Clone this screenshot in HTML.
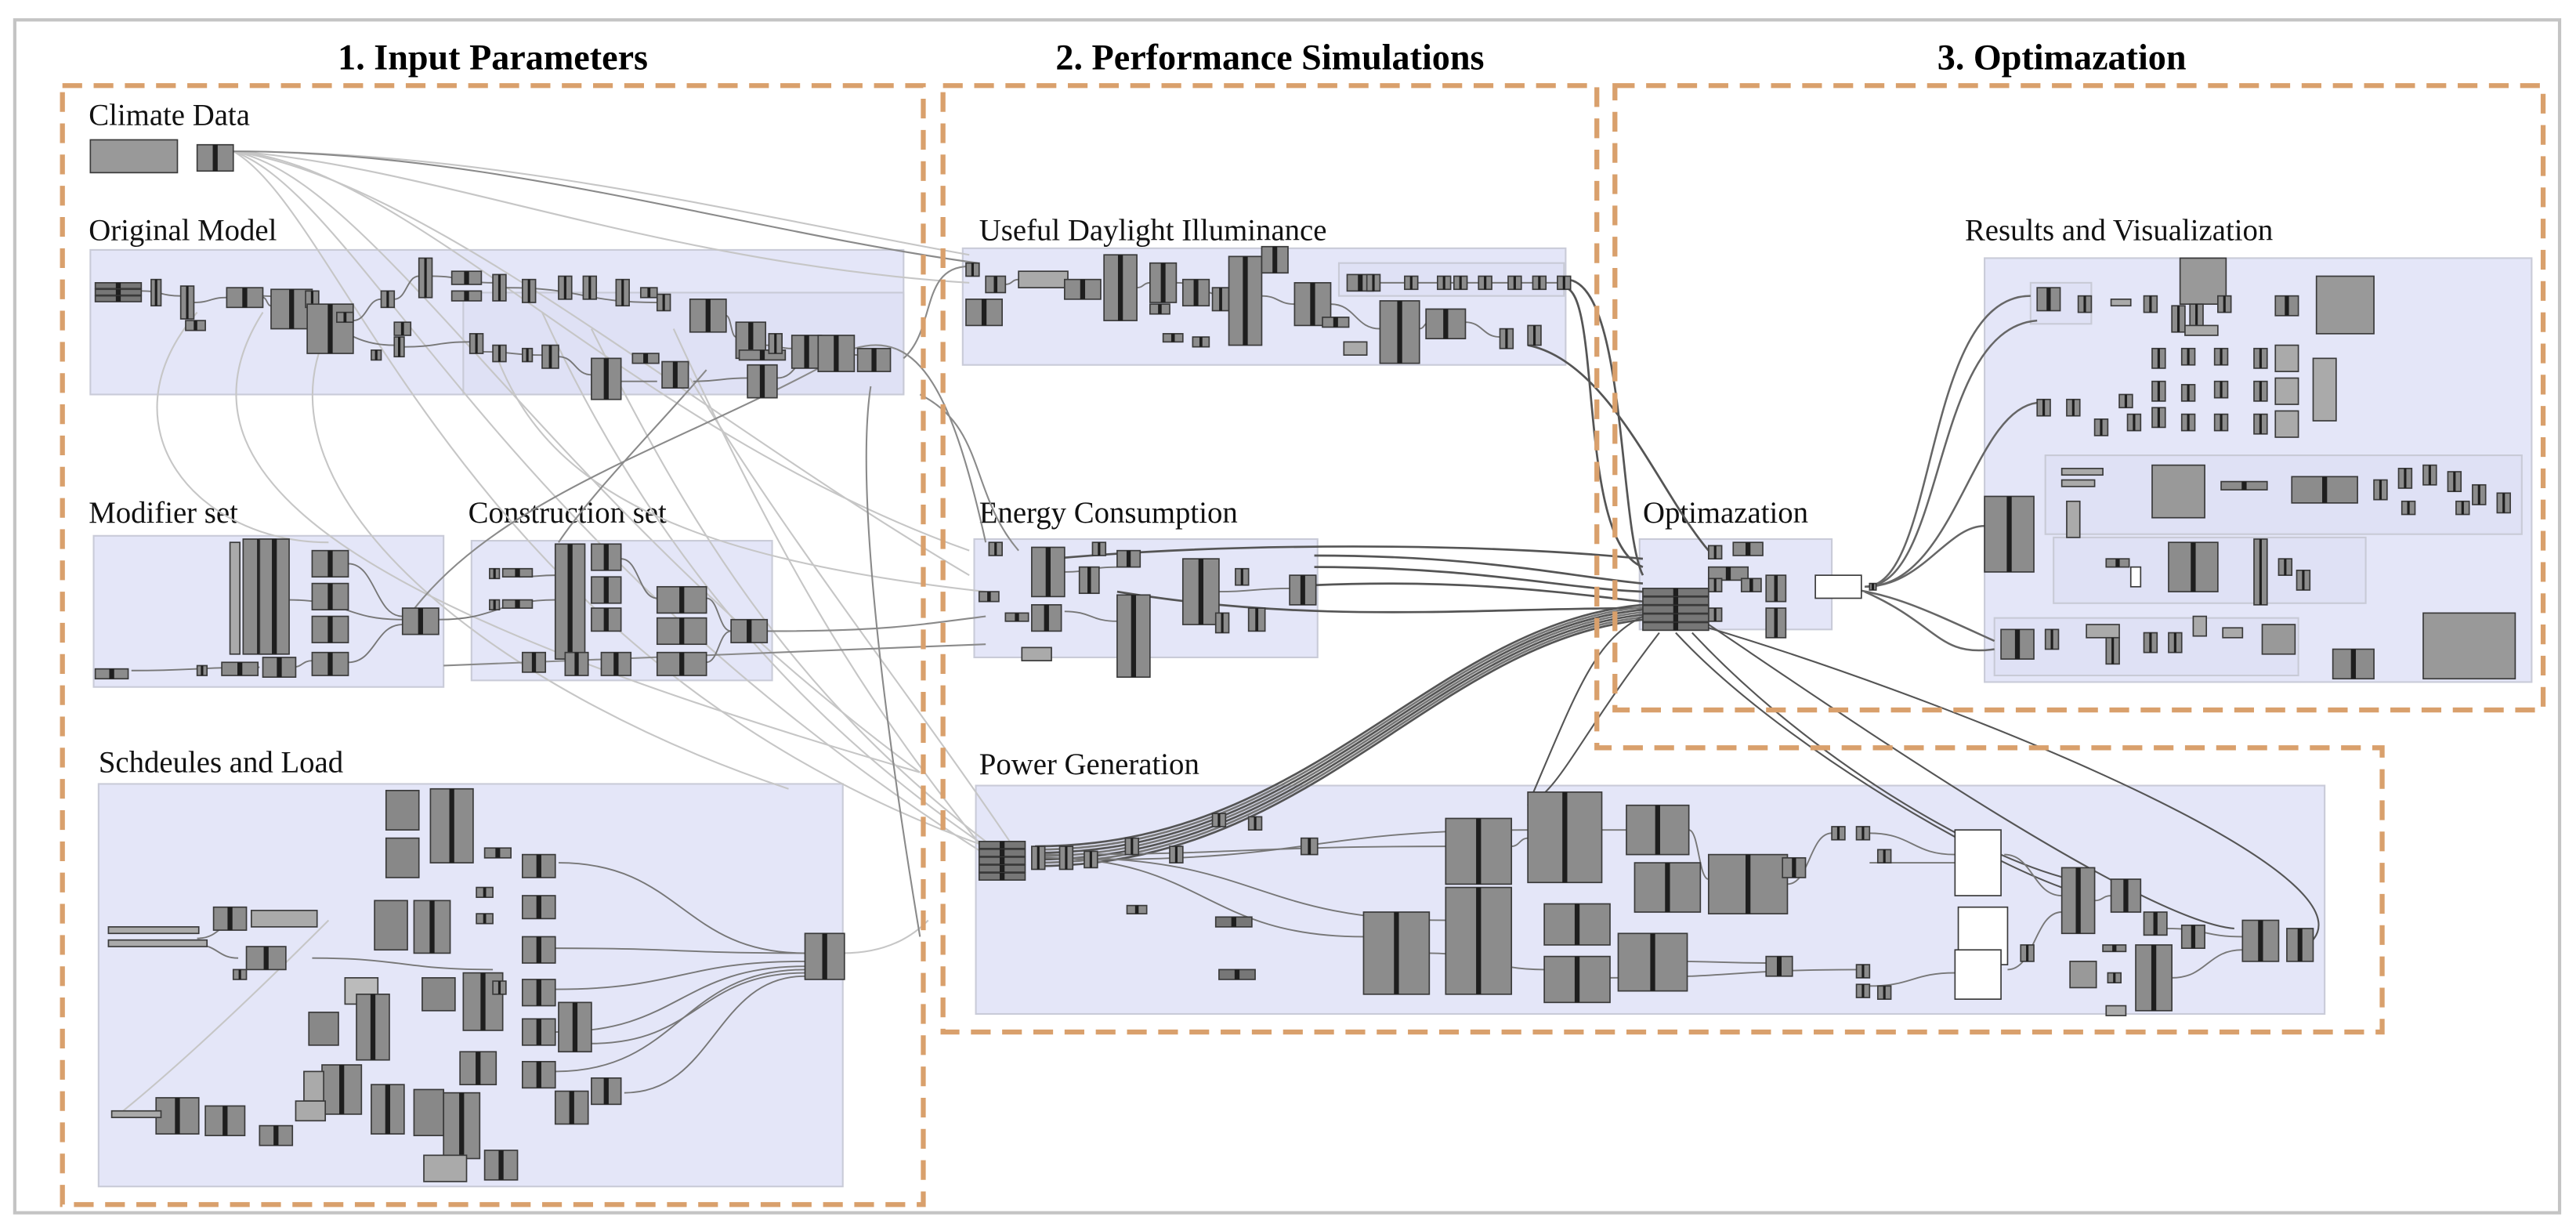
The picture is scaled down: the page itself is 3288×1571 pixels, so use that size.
<!DOCTYPE html>
<html><head><meta charset="utf-8"><style>
html,body{margin:0;padding:0;background:#fff;}
svg{display:block;}
.t{font-family:"Liberation Serif",serif;}
</style></head><body>
<svg id="s" width="3288" height="1571" viewBox="0 0 1568 749" xmlns="http://www.w3.org/2000/svg">
<rect x="0" y="0" width="1568" height="749" fill="#fff"/>
<rect x="9" y="12" width="1549" height="726" fill="none" stroke="#c4c4c4" stroke-width="2"/>
<g class="t" font-weight="bold" font-size="22" fill="#000" text-anchor="middle">
<text x="300" y="42">1. Input  Parameters</text>
<text x="773" y="42">2. Performance Simulations</text>
<text x="1255" y="42">3. Optimazation</text>
</g>
<g fill="#e4e6f8" stroke="#c9cbd8" stroke-width="1">
<rect x="55" y="152" width="495" height="88"/>
<rect x="57" y="326" width="213" height="92"/>
<rect x="287" y="329" width="183" height="85"/>
<rect x="60" y="477" width="453" height="245"/>
<rect x="586" y="151" width="367" height="71"/>
<rect x="593" y="328" width="209" height="72"/>
<rect x="594" y="478" width="821" height="139"/>
<rect x="998" y="328" width="117" height="55"/>
<rect x="1208" y="157" width="333" height="258"/>
</g>
<g fill="#dfe1f5" stroke="#c8cad6" stroke-width="1">
<rect x="1236" y="172" width="37" height="25"/>
<rect x="1245" y="277" width="290" height="48"/>
<rect x="1250" y="327" width="190" height="40"/>
<rect x="1214" y="376" width="185" height="35"/>
<rect x="282" y="178" width="268" height="62"/>
<rect x="815" y="160" width="137" height="20"/>
</g>
<g class="t" font-size="18.5" fill="#111">
<text x="54" y="76">Climate Data</text>
<text x="54" y="146">Original Model</text>
<text x="54" y="318">Modifier set</text>
<text x="285" y="318">Construction set</text>
<text x="60" y="470">Schdeules and Load</text>
<text x="596" y="146">Useful Daylight Illuminance</text>
<text x="596" y="318">Energy Consumption</text>
<text x="596" y="471">Power Generation</text>
<text x="1000" y="318">Optimazation</text>
<text x="1196" y="146">Results and Visualization</text>
</g>
<g id="wires" fill="none"></g>
<g id="nodes"></g>
<g fill="none" stroke="#d9a06c" stroke-width="3" stroke-dasharray="12,7">
<rect x="38" y="52" width="524" height="681"/>
<path d="M574,52 H972 V455 H1450 V628 H574 Z"/>
<rect x="983" y="52" width="565" height="380"/>
</g>
</svg>
<script>
var NS="http://www.w3.org/2000/svg";
var W=document.getElementById("wires"),N=document.getElementById("nodes");
function path(d,c,w){var p=document.createElementNS(NS,"path");p.setAttribute("d",d);p.setAttribute("stroke",c||"#777");p.setAttribute("stroke-width",w||1);W.appendChild(p);}
function node(x,y,w,h,f){
 var g=document.createElementNS(NS,"g");
 var r=document.createElementNS(NS,"rect");r.setAttribute("x",x);r.setAttribute("y",y);r.setAttribute("width",w);r.setAttribute("height",h);
 r.setAttribute("fill",f||"#8c8c8c");r.setAttribute("stroke","#3a3a3a");r.setAttribute("stroke-width","0.8");g.appendChild(r);
 if(f!=="#999"&&f!=="#fff"&&f!=="#aaa"&&f!=="#888"&&f!=="#bbb"){var s=document.createElementNS(NS,"rect");var sw=Math.max(1.5,Math.min(3,w*0.18));
 s.setAttribute("x",x+w/2-sw/2);s.setAttribute("y",y);s.setAttribute("width",sw);s.setAttribute("height",h);s.setAttribute("fill","#1e1e1e");g.appendChild(s);}
 N.appendChild(g);}
function stack(x,y,w,h,n){for(var i=0;i<n;i++){node(x,y+i*h/n,w,h/n-0.5,"#777");}}
var L="#c6c6c6",M="#8a8a8a",D="#555";
[
"M142,92 C300,92 450,130 590,155","M142,92 C260,100 400,160 590,172","M142,92 C250,100 380,260 590,335",
"M142,92 C230,110 330,300 560,470","M142,92 C220,120 300,330 600,520","M142,92 C210,130 280,400 600,515",
"M142,92 C260,110 420,250 590,350",
"M330,190 C380,300 460,420 600,515","M360,200 C420,320 480,420 600,512","M410,200 C470,330 520,420 600,518",
"M120,190 C60,260 120,330 200,330","M160,190 C90,300 250,380 560,470","M200,200 C150,300 300,420 480,480",
"M420,230 C480,330 560,430 620,520","M300,210 C330,300 420,340 600,360",
"M70,680 C120,640 180,580 200,560","M513,580 C545,580 560,565 565,560"
].forEach(function(d){path(d,L,1);});
[
"M142,92 C300,92 450,140 595,160","M550,218 C570,200 560,162 590,162","M470,384 C540,384 560,380 600,375",
"M270,405 C400,400 500,395 600,392","M520,212 C560,200 580,240 600,330",
"M560,240 C600,260 590,300 620,335","M340,330 C360,300 400,260 430,225","M245,380 C300,300 420,270 520,212",
"M560,570 C540,450 520,300 530,235"
].forEach(function(d){path(d,M,1);});
["M800,338 C900,338 950,350 1000,355","M800,345 C900,345 950,358 1000,360","M800,356 C900,352 960,362 1000,366",
 "M953,170 C990,170 985,320 1000,350","M953,175 C975,180 960,330 1000,345","M930,210 C980,220 1010,300 1040,335",
 "M680,360 C800,380 900,370 1000,370","M640,340 C750,330 900,330 1000,340"].forEach(function(d){path(d,D,1.3);});
for(var i=0;i<7;i++){path("M630,"+(515+i*2)+" C800,"+(515+i*2)+" 870,"+(380+i*2)+" 1000,"+(368+i*1.5),i%2?"#777":"#555",1.3);}
path("M930,490 C960,420 970,390 1000,375",D,1);
["M1135,357 C1180,357 1170,180 1236,180","M1135,357 C1185,357 1175,200 1240,195","M1135,357 C1190,357 1200,250 1240,245",
 "M1135,357 C1170,357 1185,320 1208,320","M1135,360 C1180,380 1180,400 1214,395","M1115,357 C1150,360 1170,370 1214,390"].forEach(function(d){path(d,"#666",1.2);});
["M1040,380 C1100,420 1300,560 1360,565","M1040,382 C1200,430 1470,540 1400,578","M1030,385 C1100,460 1200,520 1260,535",
 "M1020,385 C1080,450 1200,520 1255,540","M1010,385 C960,450 950,480 930,490"].forEach(function(d){path(d,"#555",1);});
var inner=[[86,177,110,180],[118,184,138,181],[160,181,165,186],[215,195,232,182],[240,182,255,168],[263,168,300,172],[308,175,400,184],[442,192,448,205],[466,210,482,212],[500,214,525,216],[160,180,240,210],[246,211,286,208],[294,214,330,216],[340,217,360,228],[378,232,400,232],[422,232,455,230],[473,230,498,214],
[176,365,245,377],[212,343,245,375],[212,403,245,380],[80,408,158,406],[178,406,190,402],[267,377,338,365],[378,340,400,364],[430,364,445,384],[430,403,445,384],[316,351,338,350],[467,384,470,384],
[340,525,490,580],[338,577,490,580],[338,602,490,585],[338,628,490,588],[338,652,490,590],[360,635,490,592],[380,665,490,594],[120,571,150,558],[120,575,145,583],[190,583,300,590],
[612,173,620,170],[692,175,700,172],[716,172,748,180],[768,180,788,185],[810,185,840,200],[864,200,870,196],[892,196,913,205],[840,172,948,172],
[648,348,680,345],[648,372,680,378],[742,360,785,358],
[636,522,830,570],[636,520,880,515],[650,522,880,560],[668,523,930,505],[920,515,930,510],[975,505,990,505],[1028,505,1040,535],[1088,538,1115,507],[1138,507,1190,520],[1138,525,1190,525],[870,580,940,590],[980,595,1130,590],[1138,600,1190,592],[1220,520,1255,545],[1222,590,1255,555],[1275,548,1285,545],[1319,565,1365,570],[1322,595,1365,578],[1020,585,1075,586]];
inner.forEach(function(a){var mx=(a[0]+a[2])/2;path("M"+a[0]+","+a[1]+" C"+mx+","+a[1]+" "+mx+","+a[3]+" "+a[2]+","+a[3],"#777",0.9);});
var ns=[
[55,85,53,20,"#999"],[120,88,22,16],
[92,170,6,16],[110,174,8,20],[113,195,12,6],[138,175,22,12],[165,176,25,24],[186,177,8,10],[187,185,28,30],[205,190,10,6],[232,177,8,10],[255,157,8,24],[275,165,18,8],[275,177,18,6],[300,167,8,16],[318,170,8,14],[340,168,8,14],[355,168,8,14],[375,170,8,16],[390,175,10,6],[400,179,8,10],[420,182,22,20],[448,196,18,22],[450,213,28,6],[468,203,8,12],[482,204,18,20],[240,205,6,12],[226,213,6,6],[286,203,8,12],[300,210,8,10],[330,210,10,14],[318,212,6,8],[360,218,18,25],[385,215,16,6],[403,220,16,16],[455,222,18,20],[498,204,22,22],[522,212,20,14],[240,196,10,8],
[140,330,6,68,"#aaa"],[148,328,20,70],[158,328,18,70],[190,335,22,16],[190,355,22,16],[190,375,22,16],[190,397,22,14],[245,370,22,16],[160,400,20,12],[135,403,22,8],[58,407,20,6],[120,405,6,6],
[298,346,6,6],[306,346,18,5],[298,365,6,6],[306,365,18,5],[338,331,18,70],[360,331,18,16],[360,351,18,16],[360,370,18,14],[400,357,30,16],[400,376,30,16],[400,397,30,14],[445,377,22,14],[318,397,14,12],[344,397,14,14],[366,397,18,14],
[235,481,20,24,"#888"],[262,480,26,45],[235,510,20,24,"#888"],[295,516,16,6],[318,520,20,14],[228,548,20,30,"#888"],[252,548,22,32],[290,540,10,6],[318,545,20,14],[290,556,10,6],[318,570,20,16],[318,596,20,16],[318,620,20,16],[318,646,20,16],[282,592,24,35],[257,595,20,20,"#888"],[300,597,8,8],[210,595,20,16,"#bbb"],[217,605,20,40],[188,616,18,20,"#888"],[196,648,24,30],[185,652,12,18,"#aaa"],[226,660,20,30],[180,670,18,12,"#aaa"],[252,663,18,28,"#888"],[270,665,22,40],[280,640,22,20],[295,700,20,18],[258,703,26,16,"#aaa"],[340,610,20,30],[360,656,18,16],[338,664,20,20],[490,568,24,28],[130,552,20,14],[153,554,40,10,"#aaa"],[150,576,24,14],[142,590,8,6],[95,668,26,22],[125,673,24,18],[158,685,20,12],[68,676,30,4,"#aaa"],[66,564,55,4,"#aaa"],[66,572,60,4,"#aaa"],
[588,160,8,8],[600,168,12,10],[588,182,22,16],[620,165,30,10,"#aaa"],[648,170,22,12],[672,155,20,40],[700,160,16,24],[700,185,12,6],[720,170,16,16],[738,175,10,14],[748,156,20,54],[768,150,16,16],[788,172,22,26],[805,193,16,6],[820,167,16,10],[840,183,24,38],[868,188,24,18],[900,168,8,8],[918,168,8,8],[933,168,8,8],[948,168,8,8],[913,200,8,12],[930,198,8,12],[818,208,14,8,"#aaa"],[708,203,12,5],[726,205,10,6],[832,167,8,10],[855,168,8,8],[875,168,8,8],[885,168,8,8],
[602,330,8,8],[628,333,20,30],[665,330,8,8],[657,345,12,16],[680,335,14,10],[720,340,22,40],[752,346,8,10],[785,350,16,18],[628,368,18,16],[680,362,20,50],[596,360,12,6],[622,394,18,8,"#aaa"],[740,373,8,12],[760,370,10,14],[612,373,14,5],
[1040,332,8,8],[1055,330,18,8],[1040,345,24,8],[1040,352,8,8],[1060,352,12,8],[1040,370,8,8],[1075,350,12,16],[1075,370,12,18],[1105,350,28,14,"#fff"],[1138,355,4,4],
[628,515,8,14],[645,515,8,14],[660,518,8,10],[685,510,8,10],[712,515,8,10],[738,495,8,8],[760,497,8,8],[792,510,10,10],[830,555,40,50],[880,498,40,40],[880,540,40,65],[930,482,45,55],[940,550,40,25],[940,582,40,28],[990,490,38,30],[995,525,40,30],[1040,520,48,36],[985,568,42,35],[1085,522,14,12],[1115,503,8,8],[1130,503,8,8],[1143,517,8,8],[1190,505,28,40,"#fff"],[1192,552,30,35,"#fff"],[1190,578,28,30,"#fff"],[1255,528,20,40],[1285,535,18,20],[1305,555,14,14],[1328,563,14,14],[1365,560,22,25],[1392,565,16,20],[1300,575,22,40],[1260,585,16,16,"#999"],[1075,582,16,12],[1130,587,8,8],[1130,599,8,8],[1143,600,8,8],[1230,575,8,10],[740,558,22,6,"#777"],[742,590,22,6,"#777"],[686,551,12,5],[1282,612,12,6,"#aaa"],[1283,592,8,6],[1280,575,14,4],
[1240,175,14,14],[1265,180,8,10],[1285,182,12,4,"#aaa"],[1305,180,8,10],[1327,157,28,28,"#999"],[1322,186,8,16],[1333,185,8,16],[1350,180,8,10],[1385,180,14,12],[1410,168,35,35,"#999"],[1330,198,20,6,"#aaa"],
[1290,240,8,8],[1310,212,8,12],[1328,212,8,10],[1348,212,8,10],[1372,212,8,12],[1385,210,14,16,"#aaa"],[1408,218,14,38,"#aaa"],[1310,232,8,12],[1328,234,8,10],[1348,232,8,10],[1372,232,8,12],[1385,230,14,16,"#aaa"],[1310,248,8,12],[1328,252,8,10],[1348,252,8,10],[1372,252,8,12],[1385,250,14,16,"#aaa"],[1240,243,8,10],[1258,243,8,10],[1275,255,8,10],[1295,252,8,10],
[1208,302,30,46],[1310,283,32,32,"#999"],[1255,285,25,4,"#aaa"],[1255,292,20,4,"#aaa"],[1352,293,28,5],[1395,290,40,16],[1445,292,8,12],[1460,285,8,12],[1475,283,8,12],[1490,287,8,12],[1505,295,8,12],[1520,300,8,12],[1462,305,8,8],[1495,305,8,8],
[1258,305,8,22,"#aaa"],[1320,330,30,30],[1372,328,8,40],[1387,340,8,10],[1398,347,8,12],[1297,345,6,12,"#fff"],[1282,340,14,5],
[1475,373,56,40,"#999"],[1420,395,25,18],[1218,383,20,18],[1245,383,8,12],[1270,380,20,8,"#aaa"],[1282,388,8,16],[1305,385,8,12],[1320,385,8,12],[1335,375,8,12,"#aaa"],[1377,380,20,18,"#999"],[1353,382,12,6,"#aaa"]
];
ns.forEach(function(a){if(a[2]>0)node(a[0],a[1],a[2],a[3],a[4]);});
stack(58,172,28,12,3);stack(1000,358,40,26,5);stack(596,512,28,24,5);
</script>
</body></html>
